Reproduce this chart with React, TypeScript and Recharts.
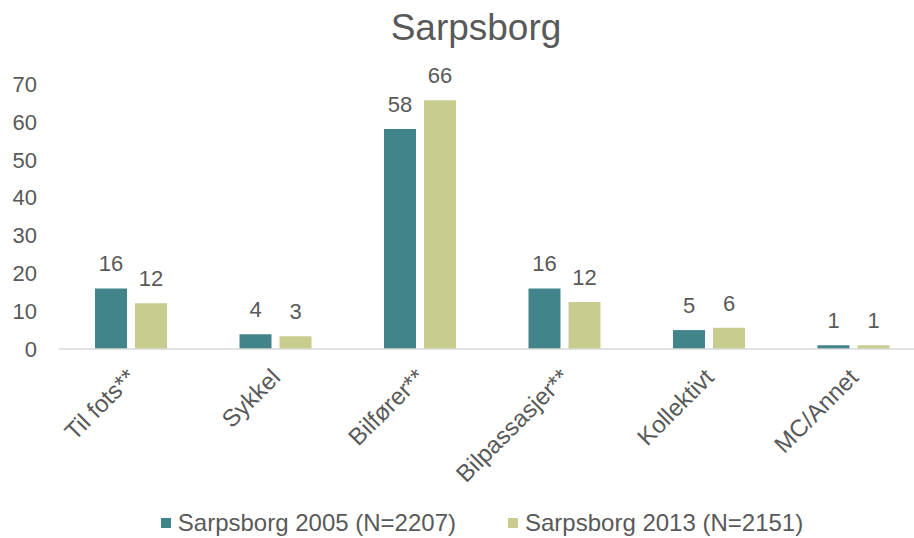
import React from 'react';
import { BarChart, Bar, XAxis, YAxis, Legend, LabelList } from 'recharts';

const categories = ['Til fots**', 'Sykkel', 'Bilfører**', 'Bilpassasjer**', 'Kollektivt', 'MC/Annet'];
const values2005 = [16.0, 3.9, 58.1, 16.0, 5.0, 1.0];
const values2013 = [12.1, 3.4, 65.7, 12.4, 5.6, 1.0];
const series = [
  { key: 's2005', name: 'Sarpsborg 2005 (N=2207)', color: '#41858A' },
  { key: 's2013', name: 'Sarpsborg 2013 (N=2151)', color: '#C8CD8F' },
];
const yTicks = [0, 10, 20, 30, 40, 50, 60, 70];
const title = 'Sarpsborg';

const data = categories.map((c, i) => ({ cat: c, s2005: values2005[i], s2013: values2013[i] }));

const FONT = '"Liberation Sans", Arial, sans-serif';
const TEXT = '#595959';

const XTick = (props: any) => {
  const { x, y, payload } = props;
  const ax = x + 6;
  const ay = y + 22;
  return (
    <text x={ax} y={ay} textAnchor="end" fill={TEXT} fontSize={24} fontFamily={FONT}
      transform={`rotate(-45, ${ax}, ${ay})`}>
      {payload.value}
    </text>
  );
};

const LegendContent = () => (
  <div style={{ display: 'flex', justifyContent: 'center', alignItems: 'center', height: 30, paddingTop: 10, paddingLeft: 37, boxSizing: 'content-box', fontFamily: FONT, fontSize: 24, color: TEXT, width: 890 }}>
    {series.map((s, i) => (
      <div key={s.key} style={{ display: 'flex', alignItems: 'center', marginLeft: i === 0 ? 0 : 52 }}>
        <span style={{ display: 'inline-block', width: 10, height: 10, background: s.color, marginRight: 7 }} />
        <span>{s.name}</span>
      </div>
    ))}
  </div>
);

const roundLabel = (v: any) => Math.round(Number(v));

export default function App() {
  return (
    <div style={{ position: 'absolute', left: 0, top: 0, width: 914, height: 538, overflow: 'hidden', background: '#fff' }}>
      <div style={{ position: 'absolute', left: 0, top: 10, width: 952, textAlign: 'center', fontFamily: FONT, fontSize: 37, lineHeight: '36px', color: TEXT }}>
        {title}
      </div>
      <BarChart width={926} height={538} data={data} margin={{ top: 84, right: 0, left: 0, bottom: 0 }}
        barCategoryGap={36} barGap={8}>
        <XAxis dataKey="cat" interval={0} height={149} tickLine={false}
          axisLine={{ stroke: '#D9D9D9', strokeWidth: 1.5 }} tick={<XTick />} />
        <YAxis width={59} domain={[0, 70]} ticks={yTicks} axisLine={false} tickLine={false}
          tickSize={0} tickMargin={22} interval={0}
          tick={{ fill: TEXT, fontSize: 22, fontFamily: FONT }} />
        <Legend verticalAlign="bottom" align="left" content={<LegendContent />} wrapperStyle={{ left: 0, width: 914 }} />
        {series.map((s) => (
          <Bar key={s.key} dataKey={s.key} name={s.name} fill={s.color} barSize={32} isAnimationActive={false}>
            <LabelList dataKey={s.key} position="top" offset={17} formatter={roundLabel}
              style={{ fill: TEXT, fontSize: 22, fontFamily: FONT }} />
          </Bar>
        ))}
      </BarChart>
    </div>
  );
}
